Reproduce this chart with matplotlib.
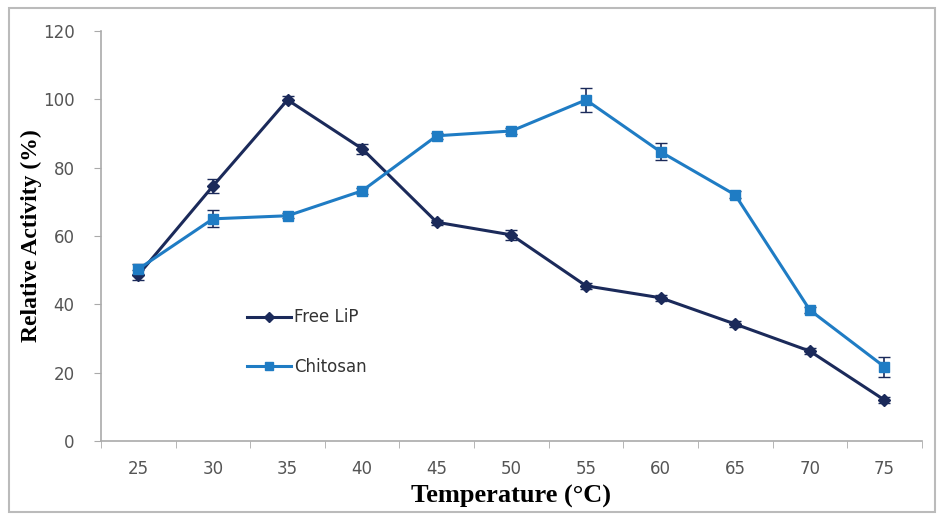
import matplotlib
matplotlib.use("Agg")
import matplotlib.pyplot as plt
import numpy as np
from matplotlib.patches import Rectangle

temps = ["25", "30", "35", "40", "45", "50", "55", "60", "65", "70", "75"]
free_lip = [48.6, 74.6, 99.8, 85.5, 64.0, 60.3, 45.4, 41.9, 34.2, 26.3, 12.0]
free_err = [1.5, 2.0, 1.0, 1.5, 0.8, 1.5, 0.8, 0.8, 0.8, 0.8, 0.8]
chitosan = [50.3, 65.0, 65.9, 73.2, 89.3, 90.7, 99.8, 84.6, 72.0, 38.3, 21.7]
chit_err = [1.5, 2.5, 0.8, 0.8, 0.8, 0.8, 3.5, 2.5, 1.0, 0.8, 3.0]
yticks = [0, 20, 40, 60, 80, 100, 120]

dark = "#1b2a5a"
light = "#1f7cc4"

fig = plt.figure(figsize=(9.38, 5.14), dpi=100)
ax = fig.add_axes([0.1077, 0.142, 0.875, 0.798])

x = np.arange(len(temps))
ax.errorbar(x, free_lip, yerr=free_err, fmt="none", capsize=4, elinewidth=1.2, ecolor=dark)
ax.errorbar(x, chitosan, yerr=chit_err, fmt="none", capsize=4, elinewidth=1.2, ecolor=dark)
ax.plot(x, free_lip, color=dark, marker="D", markersize=6, linewidth=2.2, label="Free LiP")
ax.plot(x, chitosan, color=light, marker="s", markersize=7, linewidth=2.2, label="Chitosan")

ax.set_xlim(-0.5, len(temps) - 0.5)
ax.set_ylim(0, 120)
ax.set_yticks(yticks)
ax.set_xticks(x)
ax.set_xticklabels(temps)
ax.set_xticks(np.arange(len(temps) + 1) - 0.5, minor=True)
ax.tick_params(axis="x", which="major", length=0, pad=14, labelsize=12, labelcolor="#555555")
ax.tick_params(axis="x", which="minor", length=5, color="#aaaaaa", direction="out")
ax.tick_params(axis="y", length=5, color="#aaaaaa", labelsize=12, labelcolor="#555555", pad=14)

for s in ["top", "right"]:
    ax.spines[s].set_visible(False)
for s in ["left", "bottom"]:
    ax.spines[s].set_color("#aaaaaa")
    ax.spines[s].set_linewidth(1.2)

ax.set_ylabel("Relative Activity (%)", family="Liberation Serif", fontweight="bold",
              fontsize=17)
ax.yaxis.set_label_coords(-0.072, 0.5)
ax.set_xlabel("Temperature (\u00b0C)", family="Liberation Serif", fontweight="bold",
              fontsize=19)
ax.xaxis.set_label_coords(0.5, -0.108)

leg = ax.legend(loc="upper left", bbox_to_anchor=(0.16, 0.36), frameon=False,
                fontsize=12, labelspacing=1.9, handlelength=2.6, handletextpad=0.2,
                markerscale=0.8)
for t in leg.get_texts():
    t.set_color("#333333")

fig.patches.append(Rectangle((0.01, 0.004), 0.987, 0.981, transform=fig.transFigure,
                             fill=False, edgecolor="#bbbbbb", linewidth=1.5))

fig.savefig("out.png", dpi=100)
